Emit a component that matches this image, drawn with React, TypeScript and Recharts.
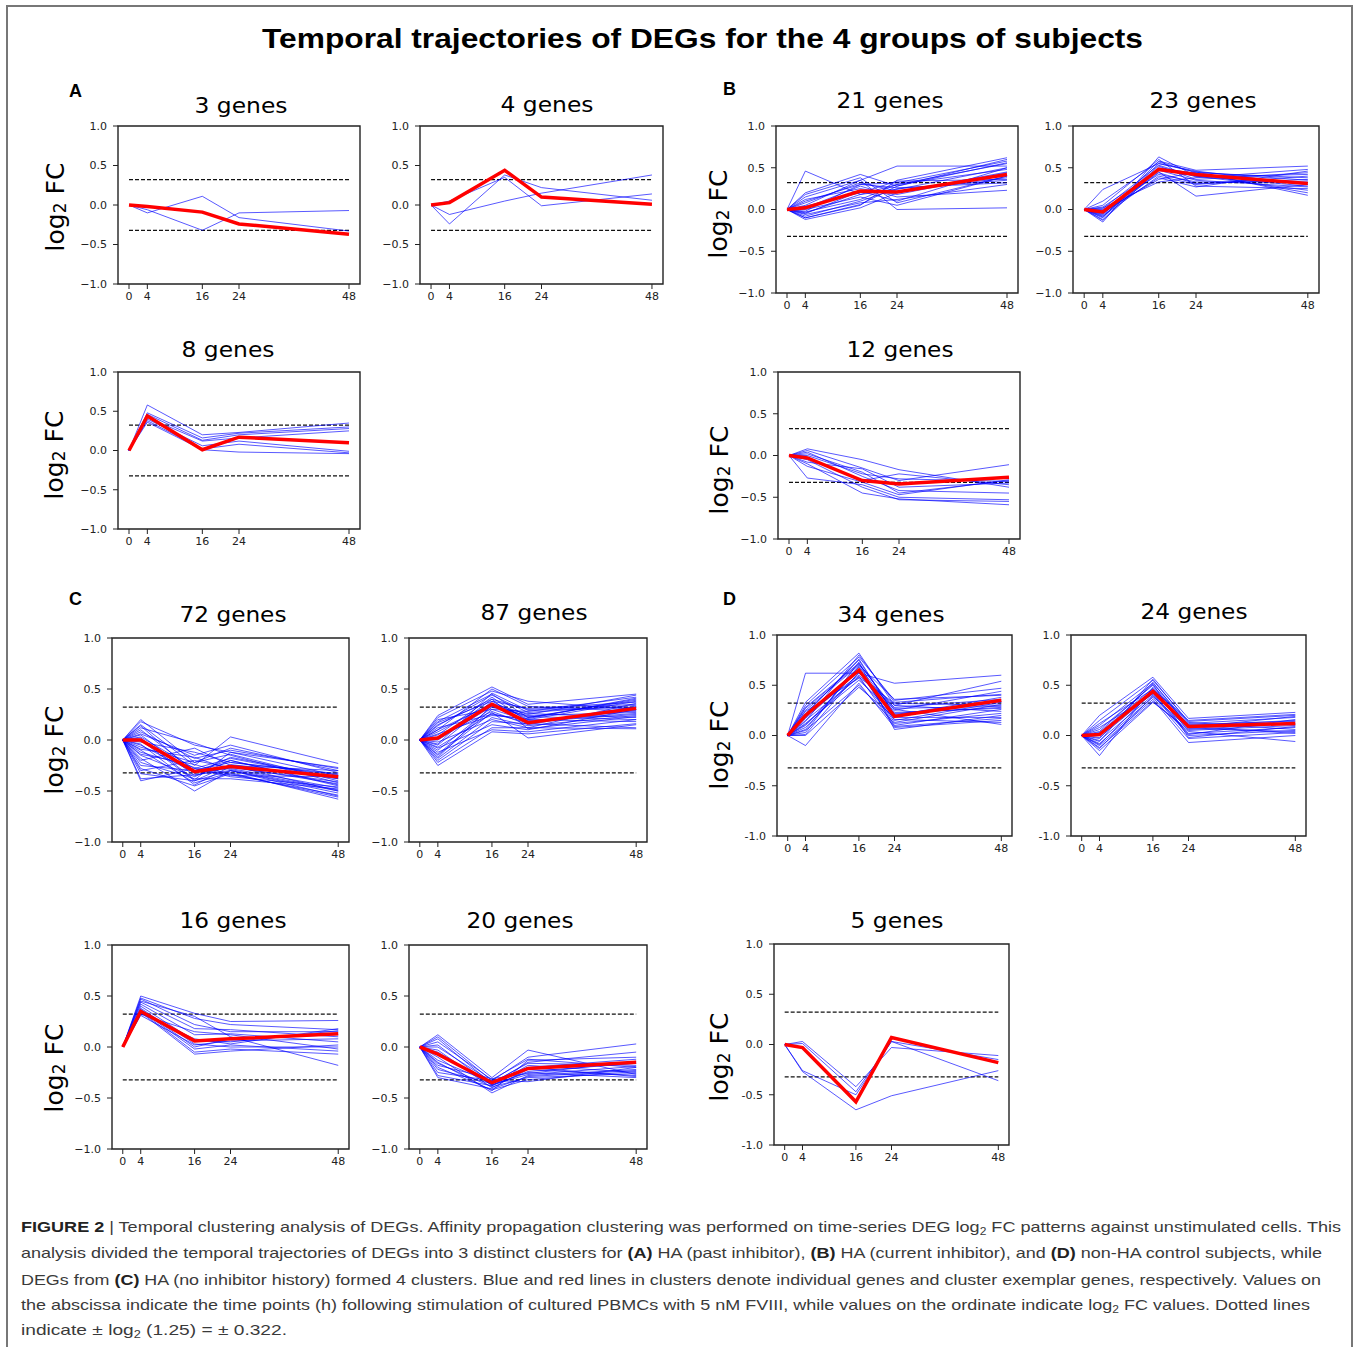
import { Line, LineChart, ReferenceArea, ReferenceLine, XAxis, YAxis } from "recharts"

const hours = [0, 4, 16, 24, 48]
const yTicks = [-1, -0.5, 0, 0.5, 1]
const cutoff = 0.322

// (A) HA, past inhibitor
const a1Red = [0, -0.02, -0.09, -0.24, -0.37]
const a1Blue = [
  [0, -0.1, 0.11, -0.16, -0.33],
  [0, -0.06, -0.32, -0.1, -0.07],
]
const a2Red = [0, 0.03, 0.44, 0.1, 0.01]
const a2Blue = [
  [0, -0.24, 0.38, 0.22, 0.06],
  [0, -0.12, 0.05, 0.15, 0.38],
  [0, 0.05, 0.35, -0.01, 0.14],
]
const a3Red = [0, 0.44, 0.01, 0.17, 0.1]
const a3Blue = [
  [0, 0.58, 0.2, 0.23, 0.35],
  [0, 0.48, 0.16, 0.22, 0.3],
  [0, 0.46, 0.13, 0.2, 0.28],
  [0, 0.42, 0.12, 0.16, 0.25],
  [0, 0.4, 0.06, 0.12, -0.01],
  [0, 0.38, 0.02, 0.08, -0.03],
  [0, 0.36, 0.01, -0.02, -0.04],
]

// (B) HA, current inhibitor
const b1Red = [0, 0.02, 0.22, 0.21, 0.42]
const b1Blue = [
  [0, 0.46, 0.18, 0.3, 0.55],
  [0, 0.2, 0.42, 0.28, 0.6],
  [0, 0.15, 0.35, 0.52, 0.52],
  [0, -0.1, 0.05, 0.35, 0.62],
  [0, 0.1, 0.3, 0.32, 0.58],
  [0, -0.05, 0.22, 0.1, 0.5],
  [0, 0.05, 0.35, 0.0, 0.02],
  [0, -0.12, 0.02, 0.2, 0.45],
  [0, 0.0, 0.15, 0.05, 0.4],
  [0, -0.08, 0.1, 0.25, 0.35],
  [0, 0.02, 0.28, 0.15, 0.23],
  [0, -0.03, 0.12, 0.3, 0.48],
  [0, 0.08, 0.32, 0.22, 0.38],
  [0, -0.06, 0.08, 0.12, 0.3],
  [0, 0.12, 0.25, 0.18, 0.44],
  [0, -0.1, 0.06, 0.28, 0.56],
  [0, 0.04, 0.2, 0.34, 0.36],
  [0, -0.02, 0.3, 0.26, 0.32],
  [0, 0.18, 0.38, 0.08, 0.4],
  [0, -0.04, 0.18, 0.24, 0.5],
]
const b2Red = [0, -0.03, 0.48, 0.42, 0.31]
const b2Blue = [
  [0, 0.24, 0.55, 0.45, 0.35],
  [0, -0.15, 0.63, 0.4, 0.28],
  [0, -0.1, 0.58, 0.47, 0.52],
  [0, -0.05, 0.45, 0.16, 0.3],
  [0, 0.02, 0.33, 0.38, 0.48],
  [0, -0.12, 0.5, 0.43, 0.2],
  [0, -0.08, 0.4, 0.3, 0.4],
  [0, 0.05, 0.6, 0.28, 0.25],
  [0, -0.02, 0.36, 0.45, 0.17],
  [0, -0.06, 0.52, 0.36, 0.44],
  [0, 0.0, 0.42, 0.33, 0.33],
  [0, -0.13, 0.48, 0.4, 0.23],
  [0, 0.1, 0.57, 0.44, 0.38],
  [0, -0.04, 0.38, 0.27, 0.46],
  [0, -0.09, 0.55, 0.46, 0.3],
  [0, 0.03, 0.47, 0.35, 0.27],
  [0, -0.07, 0.44, 0.31, 0.36],
  [0, 0.01, 0.53, 0.39, 0.42],
]
const b3Red = [0, -0.03, -0.3, -0.34, -0.26]
const b3Blue = [
  [0, 0.08, -0.05, -0.17, -0.38],
  [0, 0.06, -0.15, -0.3, -0.11],
  [0, -0.27, -0.35, -0.5, -0.53],
  [0, 0.02, -0.2, -0.45, -0.3],
  [0, -0.05, -0.38, -0.53, -0.55],
  [0, -0.1, -0.45, -0.52, -0.59],
  [0, 0.04, -0.25, -0.42, -0.45],
  [0, -0.02, -0.3, -0.22, -0.35],
  [0, -0.08, -0.16, -0.38, -0.33],
  [0, 0.0, -0.22, -0.28, -0.31],
  [0, -0.13, -0.32, -0.47, -0.29],
]

// (C) HA, no inhibitor history
const c1Red = [0, 0.0, -0.31, -0.26, -0.36]
const c1Blue = [
  [0, 0.2, -0.22, -0.08, -0.3],
  [0, 0.18, -0.05, -0.12, -0.35],
  [0, 0.15, -0.25, 0.03, -0.23],
  [0, 0.12, -0.03, -0.15, -0.42],
  [0, 0.1, -0.3, -0.2, -0.45],
  [0, 0.08, -0.18, -0.1, -0.28],
  [0, 0.05, -0.35, -0.25, -0.5],
  [0, 0.03, -0.28, -0.18, -0.38],
  [0, 0.0, -0.4, -0.3, -0.55],
  [0, -0.02, -0.12, -0.22, -0.33],
  [0, -0.05, -0.32, -0.28, -0.47],
  [0, -0.07, -0.22, -0.14, -0.4],
  [0, -0.1, -0.42, -0.32, -0.58],
  [0, -0.12, -0.27, -0.35, -0.36],
  [0, -0.15, -0.36, -0.2, -0.44],
  [0, -0.18, -0.5, -0.3, -0.52],
  [0, -0.2, -0.08, -0.25, -0.3],
  [0, -0.22, -0.38, -0.38, -0.48],
  [0, -0.25, -0.3, -0.22, -0.34],
  [0, -0.28, -0.45, -0.33, -0.56],
  [0, -0.3, -0.2, -0.27, -0.41],
  [0, -0.33, -0.4, -0.24, -0.38],
  [0, -0.38, -0.34, -0.3, -0.5],
  [0, -0.4, -0.28, -0.36, -0.46],
  [0, 0.06, -0.15, -0.05, -0.32],
  [0, -0.04, -0.44, -0.26, -0.43],
  [0, 0.14, -0.33, -0.17, -0.37],
  [0, -0.14, -0.24, -0.34, -0.54],
  [0, 0.02, -0.39, -0.12, -0.27],
  [0, -0.09, -0.17, -0.29, -0.49],
]
const c2Red = [0, 0.02, 0.35, 0.17, 0.31]
const c2Blue = [
  [0, 0.24, 0.52, 0.35, 0.45],
  [0, 0.22, 0.48, 0.38, 0.3],
  [0, 0.2, 0.3, 0.28, 0.42],
  [0, 0.18, 0.45, 0.22, 0.4],
  [0, 0.15, 0.4, 0.3, 0.35],
  [0, 0.12, 0.25, 0.2, 0.38],
  [0, 0.1, 0.5, 0.33, 0.28],
  [0, 0.08, 0.36, 0.25, 0.44],
  [0, 0.05, 0.42, 0.18, 0.25],
  [0, 0.03, 0.28, 0.15, 0.33],
  [0, 0.0, 0.33, 0.26, 0.22],
  [0, -0.02, 0.2, 0.12, 0.36],
  [0, -0.05, 0.38, 0.2, 0.18],
  [0, -0.08, 0.15, 0.1, 0.3],
  [0, -0.1, 0.32, 0.24, 0.27],
  [0, -0.12, 0.1, 0.08, 0.2],
  [0, -0.15, 0.27, 0.02, 0.15],
  [0, -0.18, 0.22, 0.14, 0.24],
  [0, -0.2, 0.18, 0.16, 0.12],
  [0, -0.22, 0.12, 0.12, 0.11],
  [0, -0.25, 0.08, 0.06, 0.16],
  [0, 0.14, 0.44, 0.27, 0.34],
  [0, 0.06, 0.24, 0.21, 0.41],
  [0, -0.04, 0.46, 0.29, 0.32],
  [0, 0.1, 0.35, 0.23, 0.2],
  [0, -0.14, 0.3, 0.19, 0.26],
  [0, 0.17, 0.38, 0.31, 0.37],
  [0, -0.07, 0.26, 0.17, 0.29],
  [0, 0.01, 0.4, 0.11, 0.23],
  [0, -0.17, 0.34, 0.22, 0.39],
]
const c3Red = [0, 0.35, 0.06, 0.08, 0.13]
const c3Blue = [
  [0, 0.5, 0.33, 0.25, 0.26],
  [0, 0.48, 0.28, 0.22, 0.17],
  [0, 0.47, 0.22, 0.15, 0.15],
  [0, 0.45, 0.3, 0.1, -0.18],
  [0, 0.44, 0.18, 0.17, 0.1],
  [0, 0.42, 0.12, 0.13, 0.05],
  [0, 0.4, 0.06, 0.05, 0.16],
  [0, 0.38, 0.03, 0.0, 0.0],
  [0, 0.37, 0.0, 0.08, 0.12],
  [0, 0.36, -0.02, 0.02, -0.04],
  [0, 0.35, -0.05, -0.02, -0.07],
  [0, 0.34, -0.07, -0.04, 0.02],
  [0, 0.33, 0.08, 0.03, 0.18],
  [0, 0.32, 0.15, 0.12, -0.02],
  [0, 0.31, 0.02, 0.06, 0.08],
]
const c4Red = [0, -0.07, -0.35, -0.21, -0.15]
const c4Blue = [
  [0, 0.12, -0.3, -0.03, -0.27],
  [0, 0.1, -0.33, -0.1, 0.03],
  [0, 0.08, -0.36, -0.15, -0.05],
  [0, 0.05, -0.32, -0.12, -0.2],
  [0, 0.02, -0.38, -0.18, -0.25],
  [0, 0.0, -0.34, -0.2, -0.12],
  [0, -0.03, -0.4, -0.22, -0.28],
  [0, -0.06, -0.37, -0.25, -0.3],
  [0, -0.1, -0.45, -0.28, -0.22],
  [0, -0.13, -0.35, -0.16, -0.18],
  [0, -0.16, -0.39, -0.3, -0.26],
  [0, -0.18, -0.31, -0.26, -0.14],
  [0, -0.2, -0.42, -0.32, -0.24],
  [0, -0.22, -0.36, -0.2, -0.29],
  [0, -0.25, -0.33, -0.34, -0.2],
  [0, -0.28, -0.38, -0.24, -0.16],
  [0, -0.3, -0.41, -0.29, -0.23],
  [0, -0.15, -0.43, -0.13, -0.1],
  [0, -0.05, -0.37, -0.27, -0.19],
]

// (D) non-HA controls
const d1Red = [0, 0.2, 0.65, 0.19, 0.35]
const d1Blue = [
  [0, 0.62, 0.62, 0.52, 0.6],
  [0, 0.33, 0.82, 0.3, 0.54],
  [0, 0.3, 0.78, 0.35, 0.47],
  [0, 0.28, 0.72, 0.25, 0.44],
  [0, 0.25, 0.7, 0.36, 0.4],
  [0, 0.22, 0.75, 0.2, 0.38],
  [0, 0.2, 0.6, 0.28, 0.36],
  [0, 0.18, 0.68, 0.15, 0.33],
  [0, 0.15, 0.58, 0.32, 0.3],
  [0, 0.12, 0.55, 0.22, 0.28],
  [0, 0.1, 0.66, 0.1, 0.26],
  [0, 0.08, 0.62, 0.3, 0.24],
  [0, 0.05, 0.5, 0.12, 0.22],
  [0, 0.03, 0.73, 0.06, 0.2],
  [0, 0.0, 0.48, 0.18, 0.18],
  [0, -0.1, 0.52, 0.08, 0.15],
  [0, 0.01, 0.63, 0.26, 0.11],
  [0, 0.14, 0.8, 0.33, 0.41],
  [0, 0.24, 0.57, 0.16, 0.13],
  [0, 0.06, 0.69, 0.23, 0.27],
  [0, 0.17, 0.64, 0.13, 0.31],
  [0, 0.27, 0.71, 0.27, 0.29],
  [0, 0.11, 0.59, 0.09, 0.17],
  [0, 0.21, 0.76, 0.21, 0.34],
]
const d2Red = [0, 0.01, 0.44, 0.09, 0.12]
const d2Blue = [
  [0, 0.2, 0.58, 0.17, 0.23],
  [0, 0.15, 0.55, 0.14, 0.2],
  [0, 0.1, 0.52, 0.12, 0.18],
  [0, 0.06, 0.5, 0.1, 0.15],
  [0, 0.03, 0.47, 0.08, 0.19],
  [0, 0.0, 0.45, 0.05, 0.1],
  [0, -0.02, 0.42, 0.02, 0.08],
  [0, -0.05, 0.4, 0.0, 0.05],
  [0, -0.08, 0.38, -0.03, 0.03],
  [0, -0.1, 0.36, -0.07, 0.0],
  [0, -0.12, 0.34, 0.04, -0.06],
  [0, -0.15, 0.33, 0.06, 0.12],
  [0, -0.2, 0.48, 0.11, 0.14],
  [0, -0.06, 0.56, 0.13, 0.06],
  [0, 0.08, 0.41, 0.01, 0.16],
  [0, -0.03, 0.53, 0.09, 0.02],
  [0, 0.12, 0.46, 0.15, 0.21],
  [0, -0.13, 0.39, 0.07, 0.04],
  [0, 0.04, 0.51, -0.02, 0.09],
  [0, -0.09, 0.44, 0.1, 0.11],
]
const d3Red = [0, -0.03, -0.57, 0.07, -0.18]
const d3Blue = [
  [0, 0.03, -0.42, -0.03, -0.11],
  [0, 0.01, -0.47, 0.03, -0.15],
  [0, -0.27, -0.65, -0.51, -0.26],
  [0, -0.26, -0.5, 0.03, -0.36],
]

// box = [left, top, width, height] of each axes frame on the page
const panels = [
  { title: "3 genes", red: a1Red, blue: a1Blue, box: [118, 126, 242, 158], tx: 241, ty: 113, yl: [55, 207] },
  { title: "4 genes", red: a2Red, blue: a2Blue, box: [420, 126, 243, 158], tx: 547, ty: 112 },
  { title: "8 genes", red: a3Red, blue: a3Blue, box: [118, 372, 242, 157], tx: 228, ty: 357, yl: [54, 455] },
  { title: "21 genes", red: b1Red, blue: b1Blue, box: [776, 126, 242, 167], tx: 890, ty: 108, yl: [718, 214] },
  { title: "23 genes", red: b2Red, blue: b2Blue, box: [1073, 126, 246, 167], tx: 1203, ty: 108 },
  { title: "12 genes", red: b3Red, blue: b3Blue, box: [778, 372, 242, 167], tx: 900, ty: 357, yl: [719, 470] },
  { title: "72 genes", red: c1Red, blue: c1Blue, box: [112, 638, 237, 204], tx: 233, ty: 622, yl: [54, 750] },
  { title: "87 genes", red: c2Red, blue: c2Blue, box: [409, 638, 238, 204], tx: 534, ty: 620 },
  { title: "16 genes", red: c3Red, blue: c3Blue, box: [112, 945, 237, 204], tx: 233, ty: 928, yl: [54, 1068] },
  { title: "20 genes", red: c4Red, blue: c4Blue, box: [409, 945, 238, 204], tx: 520, ty: 928 },
  { title: "34 genes", red: d1Red, blue: d1Blue, box: [777, 635, 235, 201], tx: 891, ty: 622, yl: [719, 745], hyphen: true },
  { title: "24 genes", red: d2Red, blue: d2Blue, box: [1071, 635, 235, 201], tx: 1194, ty: 619, hyphen: true },
  { title: "5 genes", red: d3Red, blue: d3Blue, box: [774, 944, 235, 201], tx: 897, ty: 928, yl: [719, 1057], hyphen: true },
]

const letters = [
  { t: "A", x: 69, y: 97 },
  { t: "B", x: 723, y: 95 },
  { t: "C", x: 69, y: 605 },
  { t: "D", x: 723, y: 605 },
]

const tickFont = { fontSize: 11, fill: "#222", fontFamily: "DejaVu Sans" }
const YW = 45
const XH = 26
const MT = 10
const MR = 6

function Cluster({ p }: { p: any }) {
  const rows = hours.map((t, i) => {
    const row: any = { t, red: p.red[i] }
    p.blue.forEach((b: number[], j: number) => {
      row["b" + j] = b[i]
    })
    return row
  })
  const minus = p.hyphen ? "-" : "\u2212"
  const [left, top, w, h] = p.box
  return (
    <div style={{ position: "absolute", left: left - YW, top: top - MT }}>
      <LineChart width={w + YW + MR} height={h + MT + XH} data={rows} margin={{ top: MT, right: MR, left: 0, bottom: 0 }}>
        <XAxis
          dataKey="t"
          type="number"
          domain={[-2.4, 50.4]}
          ticks={hours}
          interval={0}
          allowDataOverflow
          height={XH}
          tickSize={5}
          tickMargin={3}
          axisLine={false}
          tickLine={{ stroke: "#222" }}
          tick={tickFont}
        />
        <YAxis
          type="number"
          domain={[-1, 1]}
          ticks={yTicks}
          interval={0}
          allowDataOverflow
          width={YW}
          tickSize={5}
          tickMargin={6}
          axisLine={false}
          tickLine={{ stroke: "#222" }}
          tick={tickFont}
          tickFormatter={(v: number) => (v < 0 ? minus : "") + Math.abs(v).toFixed(1)}
        />
        <ReferenceLine segment={[{ x: 0, y: cutoff }, { x: 48, y: cutoff }]} stroke="#111" strokeDasharray="4 2" strokeWidth={1.2} />
        <ReferenceLine segment={[{ x: 0, y: -cutoff }, { x: 48, y: -cutoff }]} stroke="#111" strokeDasharray="4 2" strokeWidth={1.2} />
        {p.blue.map((_: number[], j: number) => (
          <Line
            key={j}
            dataKey={"b" + j}
            type="linear"
            stroke="#0000ff"
            strokeOpacity={0.65}
            strokeWidth={1}
            dot={false}
            activeDot={false}
            isAnimationActive={false}
          />
        ))}
        <Line dataKey="red" type="linear" stroke="#ff0000" strokeWidth={3.5} dot={false} activeDot={false} isAnimationActive={false} />
        <ReferenceArea x1={-2.4} x2={50.4} y1={-1} y2={1} fill="none" stroke="#222" strokeWidth={1.4} ifOverflow="visible" />
      </LineChart>
    </div>
  )
}

export default function App() {
  const capFont = "Liberation Sans, Arial, sans-serif"
  return (
    <div style={{ position: "absolute", left: 0, top: 0, width: 1357, height: 1347, background: "#fff", overflow: "hidden" }}>
      <div style={{ position: "absolute", left: 6, top: 5, width: 1347, height: 1345, border: "2px solid #777", boxSizing: "border-box" }} />
      <svg width={1357} height={1347} style={{ position: "absolute", left: 0, top: 0 }}>
        <text x={702.5} y={48} textAnchor="middle" fontFamily={capFont} fontWeight="bold" fontSize={28} textLength={881} lengthAdjust="spacingAndGlyphs" fill="#000">
          Temporal trajectories of DEGs for the 4 groups of subjects
        </text>
        {letters.map((l) => (
          <text key={l.t} x={l.x} y={l.y} fontFamily={capFont} fontWeight="bold" fontSize={18} fill="#000">
            {l.t}
          </text>
        ))}
        {panels.map((p) => (
          <text key={p.title} x={p.tx} y={p.ty} textAnchor="middle" fontFamily="DejaVu Sans" fontSize={21} fill="#000" textLength={p.title.length === 7 ? 93 : 107} lengthAdjust="spacingAndGlyphs">
            {p.title}
          </text>
        ))}
        {panels
          .filter((p) => p.yl)
          .map((p) => (
            <text key={"yl" + p.title} transform={`translate(${p.yl![0]},${p.yl![1]}) rotate(-90)`} textAnchor="middle" dominantBaseline="central" fontFamily="DejaVu Sans" fontSize={25} fill="#000">
              log<tspan fontSize={17} dy={5}>2</tspan>
              <tspan dy={-5}> FC</tspan>
            </text>
          ))}
        <g fontFamily={capFont} fontSize={15} fill="#3a3a3a">
          <text x={21} y={1232} textLength={1320} lengthAdjust="spacingAndGlyphs">
            <tspan fontWeight="bold" fill="#222">FIGURE 2</tspan> | Temporal clustering analysis of DEGs. Affinity propagation clustering was performed on time-series DEG log
            <tspan fontSize={10} dy={3}>2</tspan>
            <tspan dy={-3}> FC patterns against unstimulated cells. This</tspan>
          </text>
          <text x={21} y={1258} textLength={1301} lengthAdjust="spacingAndGlyphs">
            analysis divided the temporal trajectories of DEGs into 3 distinct clusters for <tspan fontWeight="bold" fill="#222">(A)</tspan> HA (past inhibitor),{" "}
            <tspan fontWeight="bold" fill="#222">(B)</tspan> HA (current inhibitor), and <tspan fontWeight="bold" fill="#222">(D)</tspan> non-HA control subjects, while
          </text>
          <text x={21} y={1285} textLength={1300} lengthAdjust="spacingAndGlyphs">
            DEGs from <tspan fontWeight="bold" fill="#222">(C)</tspan> HA (no inhibitor history) formed 4 clusters. Blue and red lines in clusters denote individual genes and cluster exemplar genes, respectively. Values on
          </text>
          <text x={21} y={1310} textLength={1289} lengthAdjust="spacingAndGlyphs">
            the abscissa indicate the time points (h) following stimulation of cultured PBMCs with 5 nM FVIII, while values on the ordinate indicate log
            <tspan fontSize={10} dy={3}>2</tspan>
            <tspan dy={-3}> FC values. Dotted lines</tspan>
          </text>
          <text x={21} y={1335} textLength={266} lengthAdjust="spacingAndGlyphs">
            indicate ± log<tspan fontSize={10} dy={3}>2</tspan>
            <tspan dy={-3}> (1.25) = ± 0.322.</tspan>
          </text>
        </g>
      </svg>
      {panels.map((p) => (
        <Cluster key={p.title} p={p} />
      ))}
    </div>
  )
}
